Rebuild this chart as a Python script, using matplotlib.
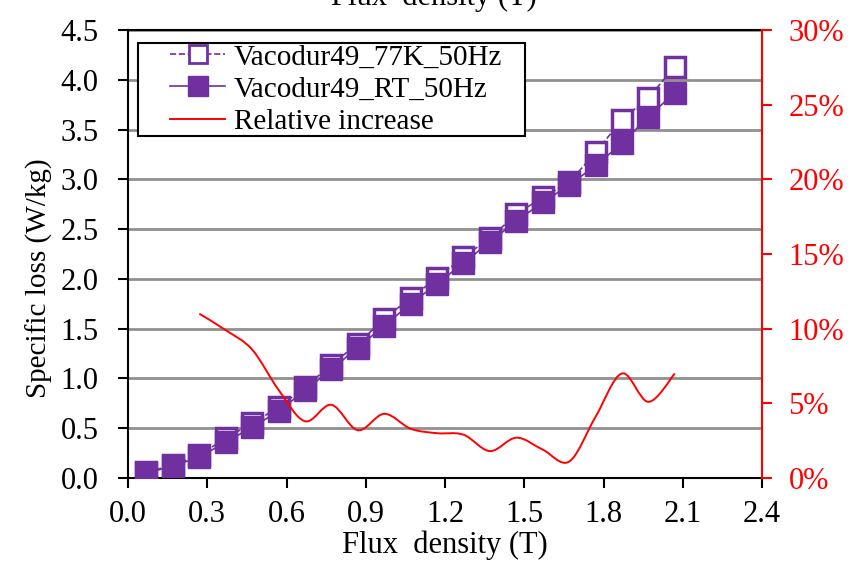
import matplotlib.pyplot as plt
from matplotlib.path import Path
from matplotlib.patches import PathPatch, Rectangle
from matplotlib.lines import Line2D
from matplotlib.ticker import FuncFormatter

plt.rcParams['font.family'] = ['Liberation Serif', 'DejaVu Serif']

# data
flux = [0.07, 0.17, 0.27, 0.37, 0.47, 0.57, 0.67, 0.77, 0.87, 0.97, 1.07,
        1.17, 1.27, 1.37, 1.47, 1.57, 1.67, 1.77, 1.87, 1.97, 2.07]
loss_77k = [0.06, 0.13, 0.23, 0.40, 0.55, 0.71, 0.91, 1.14, 1.35, 1.60, 1.81,
            2.01, 2.22, 2.41, 2.65, 2.82, 2.97, 3.27, 3.60, 3.82, 4.13]
loss_rt = [0.05, 0.12, 0.21, 0.36, 0.51, 0.67, 0.88, 1.09, 1.31, 1.53, 1.75,
           1.95, 2.16, 2.37, 2.58, 2.77, 2.94, 3.14, 3.36, 3.63, 3.87]
flux_rel = [0.27, 0.37, 0.47, 0.57, 0.67, 0.77, 0.87, 0.97, 1.07, 1.17,
            1.27, 1.37, 1.47, 1.57, 1.67, 1.77, 1.87, 1.97, 2.07]
rel_increase = [0.110, 0.099, 0.086, 0.059, 0.038, 0.049, 0.032, 0.043, 0.033,
                0.030, 0.029, 0.018, 0.027, 0.019, 0.011, 0.041, 0.070, 0.051, 0.070]

purple = '#7030A0'
fs = 22
W, H = 864, 562

fig = plt.figure(figsize=(W / 100, H / 100), dpi=100)
ax = fig.add_axes([128 / W, 1 - 478 / H, 634 / W, 448 / H])
ax2 = ax.twinx()

ax.plot(flux, loss_77k, ls='--', lw=1.2, color=purple, marker='s', ms=14,
        mfc='white', mec=purple, mew=2.5, zorder=3)
ax.plot(flux, loss_rt, ls='-', lw=1.2, color=purple, marker='s', ms=16,
        mfc=purple, mec=purple, zorder=4)

ax.set_xlim(0, 2.4)
ax.set_ylim(0, 4.5)
ax.set_xticks([0.0, 0.3, 0.6, 0.9, 1.2, 1.5, 1.8, 2.1, 2.4])
ax.set_yticks([0.0, 0.5, 1.0, 1.5, 2.0, 2.5, 3.0, 3.5, 4.0, 4.5])
ax.xaxis.set_major_formatter(FuncFormatter(lambda v, p: '%.1f' % v))
ax.yaxis.set_major_formatter(FuncFormatter(lambda v, p: '%.1f' % v))
ax.grid(True, axis='y', color='#909090', lw=2)
ax.set_axisbelow(True)
ax.tick_params(labelsize=fs, direction='out', length=7, width=1.5, colors='black')
ax.tick_params(axis='y', pad=14)
ax.tick_params(axis='x', pad=9)
ax.set_xlabel('Flux  density (T)', fontsize=fs, labelpad=1)
ax.set_ylabel('Specific loss (W/kg)', fontsize=21)
ax.yaxis.set_label_coords(-75 / 634, (478 - 278) / 448)
for s in ['left', 'bottom', 'top']:
    ax.spines[s].set_linewidth(1.5)
ax.spines['right'].set_visible(False)

# smoothed red curve (Excel style), drawn as bezier segments through the points
pts = list(zip(flux_rel, rel_increase))
verts = [pts[0]]
codes = [Path.MOVETO]
for i in range(len(pts) - 1):
    p0 = pts[i - 1] if i > 0 else pts[i]
    p1 = pts[i]
    p2 = pts[i + 1]
    p3 = pts[i + 2] if i + 2 < len(pts) else pts[i + 1]
    c1 = (p1[0] + (p2[0] - p0[0]) / 6, p1[1] + (p2[1] - p0[1]) / 6)
    c2 = (p2[0] - (p3[0] - p1[0]) / 6, p2[1] - (p3[1] - p1[1]) / 6)
    verts += [c1, c2, p2]
    codes += [Path.CURVE4] * 3
ax2.add_patch(PathPatch(Path(verts, codes), fill=False, edgecolor='red', lw=1.4))

ax2.set_ylim(0, 0.30)
ax2.set_yticks([0, 0.05, 0.10, 0.15, 0.20, 0.25, 0.30])
ax2.yaxis.set_major_formatter(FuncFormatter(lambda v, p: '%d%%' % round(v * 100)))
ax2.tick_params(labelsize=fs, direction='out', length=7, width=1.5,
                colors='red', pad=12)
ax2.spines['right'].set_color('red')
ax2.spines['right'].set_linewidth(1.5)
for s in ['left', 'bottom', 'top']:
    ax2.spines[s].set_visible(False)

# legend box drawn separately so the handles can sit inset from its edge
ax2.add_patch(Rectangle((138 / W, 1 - 136 / H), 387 / W, 93 / H,
                        transform=fig.transFigure, facecolor='white',
                        edgecolor='black', lw=1.5, zorder=4.5))
handles = [Line2D([], [], ls='--', lw=1.2, color=purple, marker='s', ms=12.5,
                  mfc='white', mec=purple, mew=2),
           Line2D([], [], ls='-', lw=1.2, color=purple, marker='s', ms=14,
                  mfc=purple, mec=purple),
           Line2D([], [], color='red', lw=1.4)]
labels = ['Vacodur49_77K_50Hz', 'Vacodur49_RT_50Hz', 'Relative increase']
leg = ax2.legend(handles, labels, loc='upper left',
                 bbox_to_anchor=(170 / W, 1 - 44 / H),
                 bbox_transform=fig.transFigure, fontsize=21, frameon=False,
                 handlelength=1.9, handletextpad=0.3, borderpad=0,
                 borderaxespad=0, labelspacing=0.2)

# partially cut-off label at the very top of the image
fig.text(434 / W, 1 - 5 / H, 'Flux  density (T)', fontsize=fs,
         ha='center', va='baseline')

fig.savefig('out.png', dpi=100)
